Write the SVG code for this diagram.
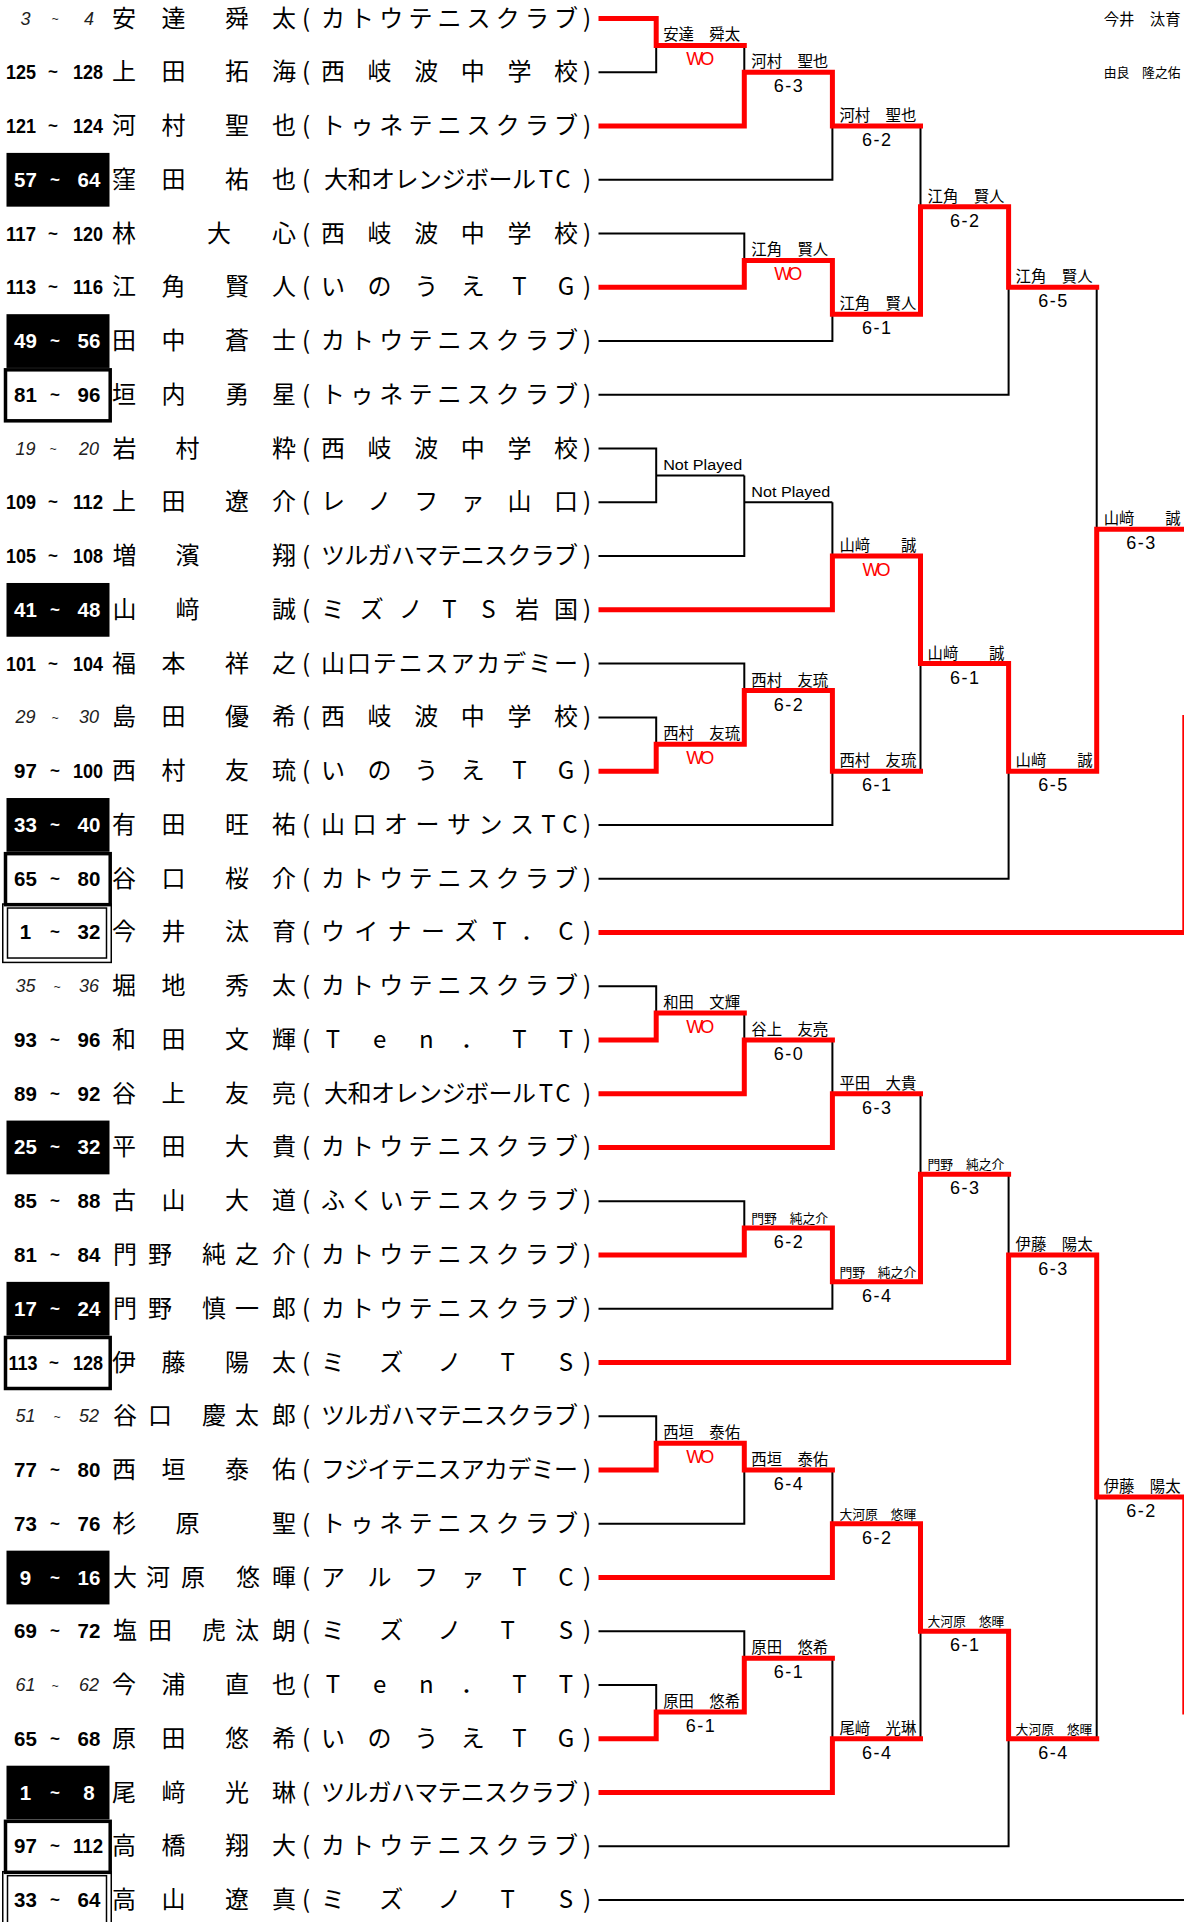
<svg xmlns="http://www.w3.org/2000/svg" width="1184" height="1922" viewBox="0 0 1184 1922">
<style>
.nm{font-family:'Noto Sans CJK JP',sans-serif;font-size:24px;fill:#000;text-anchor:middle}
.nb{font-family:'Liberation Sans',Arial,sans-serif;font-weight:700;font-size:20.5px;text-anchor:middle;fill:#000}
.nw{fill:#fff}
.ni{font-family:'Liberation Sans',Arial,sans-serif;font-style:italic;font-size:18px;text-anchor:middle;fill:#222}
.tl{font-size:17px}
.ti{font-size:12px}
.bk{fill:#000}
.tb{fill:none;stroke:#000;stroke-width:3.5}
.db{fill:none;stroke:#000;stroke-width:1.5}
.lb{font-family:'Noto Sans CJK JP',sans-serif;font-size:15.4px;fill:#000}
.ls{font-size:12.8px}
.np{font-family:'Liberation Sans',Arial,sans-serif;font-size:15.5px;fill:#000}
.sc{font-family:'Liberation Sans',Arial,sans-serif;font-size:18px;text-anchor:middle;fill:#000}
.wo{fill:#f00}
.blk{fill:none;stroke:#000;stroke-width:2;stroke-linejoin:miter}
.red{fill:none;stroke:#f00;stroke-width:5;stroke-linejoin:miter;stroke-linecap:square}
</style>
<rect width="1184" height="1922" fill="#fff"/>
<g id="players">
<g id="p01" transform="translate(0,18.5)"><text class="ni" x="25.5" y="6">3</text><text class="ni ti" x="55" y="4.5">~</text><text class="ni" x="89" y="6">4</text><text class="nm" x="124 173.5 237 284" y="8">安達舜太</text><text class="nm" x="306 333 362.1 391.3 420.4 449.5 478.6 507.8 536.9 566 587" y="8">(カトウテニスクラブ)</text></g>
<g id="p02" transform="translate(0,72.26)"><text class="nb" x="21" y="7" textLength="30" lengthAdjust="spacingAndGlyphs">125</text><text class="nb tl" x="53" y="5">~</text><text class="nb" x="88" y="7" textLength="30" lengthAdjust="spacingAndGlyphs">128</text><text class="nm" x="124 173.5 237 284" y="8">上田拓海</text><text class="nm" x="306 333 379.6 426.2 472.8 519.4 566 587" y="8">(西岐波中学校)</text></g>
<g id="p03" transform="translate(0,126.02)"><text class="nb" x="21" y="7" textLength="30" lengthAdjust="spacingAndGlyphs">121</text><text class="nb tl" x="53" y="5">~</text><text class="nb" x="88" y="7" textLength="30" lengthAdjust="spacingAndGlyphs">124</text><text class="nm" x="124 173.5 237 284" y="8">河村聖也</text><text class="nm" x="306 333 362.1 391.3 420.4 449.5 478.6 507.8 536.9 566 587" y="8">(トゥネテニスクラブ)</text></g>
<g id="p04" transform="translate(0,179.78)"><rect class="bk" x="6.5" y="-26.88" width="103" height="53.76"/><text class="nb nw" x="25.5" y="7">57</text><text class="nb nw tl" x="55" y="5">~</text><text class="nb nw" x="89" y="7">64</text><text class="nm" x="124 173.5 237 284" y="8">窪田祐也</text><text class="nm" x="306 336 359.5 383 406.5 430 453.5 477 500.5 524 546 563 587" y="8">(大和オレンジボールTC)</text></g>
<g id="p05" transform="translate(0,233.54)"><text class="nb" x="21" y="7" textLength="30" lengthAdjust="spacingAndGlyphs">117</text><text class="nb tl" x="53" y="5">~</text><text class="nb" x="88" y="7" textLength="30" lengthAdjust="spacingAndGlyphs">120</text><text class="nm" x="124 219 284" y="8">林大心</text><text class="nm" x="306 333 379.6 426.2 472.8 519.4 566 587" y="8">(西岐波中学校)</text></g>
<g id="p06" transform="translate(0,287.3)"><text class="nb" x="21" y="7" textLength="30" lengthAdjust="spacingAndGlyphs">113</text><text class="nb tl" x="53" y="5">~</text><text class="nb" x="88" y="7" textLength="30" lengthAdjust="spacingAndGlyphs">116</text><text class="nm" x="124 173.5 237 284" y="8">江角賢人</text><text class="nm" x="306 333 379.6 426.2 472.8 519.4 566 587" y="8">(いのうえTG)</text></g>
<g id="p07" transform="translate(0,341.06)"><rect class="bk" x="6.5" y="-26.88" width="103" height="53.76"/><text class="nb nw" x="25.5" y="7">49</text><text class="nb nw tl" x="55" y="5">~</text><text class="nb nw" x="89" y="7">56</text><text class="nm" x="124 173.5 237 284" y="8">田中蒼士</text><text class="nm" x="306 333 362.1 391.3 420.4 449.5 478.6 507.8 536.9 566 587" y="8">(カトウテニスクラブ)</text></g>
<g id="p08" transform="translate(0,394.82)"><rect class="tb" x="5.5" y="-25" width="104.7" height="51"/><text class="nb" x="25.5" y="7">81</text><text class="nb tl" x="55" y="5">~</text><text class="nb" x="89" y="7">96</text><text class="nm" x="124 173.5 237 284" y="8">垣内勇星</text><text class="nm" x="306 333 362.1 391.3 420.4 449.5 478.6 507.8 536.9 566 587" y="8">(トゥネテニスクラブ)</text></g>
<g id="p09" transform="translate(0,448.58)"><text class="ni" x="25.5" y="6">19</text><text class="ni ti" x="53" y="4.5">~</text><text class="ni" x="89" y="6">20</text><text class="nm" x="124.5 187.5 284" y="8">岩村粋</text><text class="nm" x="306 333 379.6 426.2 472.8 519.4 566 587" y="8">(西岐波中学校)</text></g>
<g id="p10" transform="translate(0,502.34)"><text class="nb" x="21" y="7" textLength="30" lengthAdjust="spacingAndGlyphs">109</text><text class="nb tl" x="53" y="5">~</text><text class="nb" x="88" y="7" textLength="30" lengthAdjust="spacingAndGlyphs">112</text><text class="nm" x="124 173.5 237 284" y="8">上田遼介</text><text class="nm" x="306 333 379.6 426.2 472.8 519.4 566 587" y="8">(レノファ山口)</text></g>
<g id="p11" transform="translate(0,556.1)"><text class="nb" x="21" y="7" textLength="30" lengthAdjust="spacingAndGlyphs">105</text><text class="nb tl" x="53" y="5">~</text><text class="nb" x="88" y="7" textLength="30" lengthAdjust="spacingAndGlyphs">108</text><text class="nm" x="124.5 187.5 284" y="8">増濱翔</text><text class="nm" x="306 333 356.3 379.6 402.9 426.2 449.5 472.8 496.1 519.4 542.7 566 587" y="8">(ツルガハマテニスクラブ)</text></g>
<g id="p12" transform="translate(0,609.86)"><rect class="bk" x="6.5" y="-26.88" width="103" height="53.76"/><text class="nb nw" x="25.5" y="7">41</text><text class="nb nw tl" x="55" y="5">~</text><text class="nb nw" x="89" y="7">48</text><text class="nm" x="124.5 187.5 284" y="8">山﨑誠</text><text class="nm" x="306 333 371.8 410.7 449.5 488.3 527.2 566 587" y="8">(ミズノTS岩国)</text></g>
<g id="p13" transform="translate(0,663.62)"><text class="nb" x="21" y="7" textLength="30" lengthAdjust="spacingAndGlyphs">101</text><text class="nb tl" x="53" y="5">~</text><text class="nb" x="88" y="7" textLength="30" lengthAdjust="spacingAndGlyphs">104</text><text class="nm" x="124 173.5 237 284" y="8">福本祥之</text><text class="nm" x="306 333 358.9 384.8 410.7 436.6 462.4 488.3 514.2 540.1 566 587" y="8">(山口テニスアカデミー)</text></g>
<g id="p14" transform="translate(0,717.38)"><text class="ni" x="25.5" y="6">29</text><text class="ni ti" x="55" y="4.5">~</text><text class="ni" x="89" y="6">30</text><text class="nm" x="124 173.5 237 284" y="8">島田優希</text><text class="nm" x="306 333 379.6 426.2 472.8 519.4 566 587" y="8">(西岐波中学校)</text></g>
<g id="p15" transform="translate(0,771.14)"><text class="nb" x="25.5" y="7">97</text><text class="nb tl" x="55" y="5">~</text><text class="nb" x="88" y="7" textLength="30" lengthAdjust="spacingAndGlyphs">100</text><text class="nm" x="124 173.5 237 284" y="8">西村友琉</text><text class="nm" x="306 333 379.6 426.2 472.8 519.4 566 587" y="8">(いのうえTG)</text></g>
<g id="p16" transform="translate(0,824.9)"><rect class="bk" x="6.5" y="-26.88" width="103" height="53.76"/><text class="nb nw" x="25.5" y="7">33</text><text class="nb nw tl" x="55" y="5">~</text><text class="nb nw" x="89" y="7">40</text><text class="nm" x="124 173.5 237 284" y="8">有田旺祐</text><text class="nm" x="306 333 364.5 396 427.5 459 490.5 522 548.5 570 587" y="8">(山口オーサンスTC)</text></g>
<g id="p17" transform="translate(0,878.66)"><rect class="tb" x="5.5" y="-25" width="104.7" height="51"/><text class="nb" x="25.5" y="7">65</text><text class="nb tl" x="55" y="5">~</text><text class="nb" x="89" y="7">80</text><text class="nm" x="124 173.5 237 284" y="8">谷口桜介</text><text class="nm" x="306 333 362.1 391.3 420.4 449.5 478.6 507.8 536.9 566 587" y="8">(カトウテニスクラブ)</text></g>
<g id="p18" transform="translate(0,932.42)"><rect class="db" x="2.75" y="-28.4" width="108.5" height="58.4"/><rect class="db" x="7.5" y="-24.4" width="99" height="50"/><text class="nb" x="25.5" y="7">1</text><text class="nb tl" x="55" y="5">~</text><text class="nb" x="89" y="7">32</text><text class="nm" x="124 173.5 237 284" y="8">今井汰育</text><text class="nm" x="306 333 366.3 399.6 432.9 466.1 499.4 532.7 566 587" y="8">(ウイナーズT．C)</text></g>
<g id="p19" transform="translate(0,986.18)"><text class="ni" x="25.5" y="6">35</text><text class="ni ti" x="57" y="4.5">~</text><text class="ni" x="89" y="6">36</text><text class="nm" x="124 173.5 237 284" y="8">堀地秀太</text><text class="nm" x="306 333 362.1 391.3 420.4 449.5 478.6 507.8 536.9 566 587" y="8">(カトウテニスクラブ)</text></g>
<g id="p20" transform="translate(0,1039.94)"><text class="nb" x="25.5" y="7">93</text><text class="nb tl" x="55" y="5">~</text><text class="nb" x="89" y="7">96</text><text class="nm" x="124 173.5 237 284" y="8">和田文輝</text><text class="nm" x="306 333 379.6 426.2 472.8 519.4 566 587" y="8">(Ten．TT)</text></g>
<g id="p21" transform="translate(0,1093.7)"><text class="nb" x="25.5" y="7">89</text><text class="nb tl" x="55" y="5">~</text><text class="nb" x="89" y="7">92</text><text class="nm" x="124 173.5 237 284" y="8">谷上友亮</text><text class="nm" x="306 336 359.5 383 406.5 430 453.5 477 500.5 524 546 563 587" y="8">(大和オレンジボールTC)</text></g>
<g id="p22" transform="translate(0,1147.46)"><rect class="bk" x="6.5" y="-26.88" width="103" height="53.76"/><text class="nb nw" x="25.5" y="7">25</text><text class="nb nw tl" x="55" y="5">~</text><text class="nb nw" x="89" y="7">32</text><text class="nm" x="124 173.5 237 284" y="8">平田大貴</text><text class="nm" x="306 333 362.1 391.3 420.4 449.5 478.6 507.8 536.9 566 587" y="8">(カトウテニスクラブ)</text></g>
<g id="p23" transform="translate(0,1201.22)"><text class="nb" x="25.5" y="7">85</text><text class="nb tl" x="55" y="5">~</text><text class="nb" x="89" y="7">88</text><text class="nm" x="124 173.5 237 284" y="8">古山大道</text><text class="nm" x="306 333 362.1 391.3 420.4 449.5 478.6 507.8 536.9 566 587" y="8">(ふくいテニスクラブ)</text></g>
<g id="p24" transform="translate(0,1254.98)"><text class="nb" x="25.5" y="7">81</text><text class="nb tl" x="55" y="5">~</text><text class="nb" x="89" y="7">84</text><text class="nm" x="125 160 214 247 284" y="8">門野純之介</text><text class="nm" x="306 333 362.1 391.3 420.4 449.5 478.6 507.8 536.9 566 587" y="8">(カトウテニスクラブ)</text></g>
<g id="p25" transform="translate(0,1308.74)"><rect class="bk" x="6.5" y="-26.88" width="103" height="53.76"/><text class="nb nw" x="25.5" y="7">17</text><text class="nb nw tl" x="55" y="5">~</text><text class="nb nw" x="89" y="7">24</text><text class="nm" x="125 160 214 247 284" y="8">門野慎一郎</text><text class="nm" x="306 333 362.1 391.3 420.4 449.5 478.6 507.8 536.9 566 587" y="8">(カトウテニスクラブ)</text></g>
<g id="p26" transform="translate(0,1362.5)"><rect class="tb" x="5.5" y="-25" width="104.7" height="51"/><text class="nb" x="23" y="7" textLength="29" lengthAdjust="spacingAndGlyphs">113</text><text class="nb tl" x="54" y="5">~</text><text class="nb" x="88" y="7" textLength="30" lengthAdjust="spacingAndGlyphs">128</text><text class="nm" x="124 173.5 237 284" y="8">伊藤陽太</text><text class="nm" x="306 333 391.3 449.5 507.8 566 587" y="8">(ミズノTS)</text></g>
<g id="p27" transform="translate(0,1416.26)"><text class="ni" x="25.5" y="6">51</text><text class="ni ti" x="57" y="4.5">~</text><text class="ni" x="89" y="6">52</text><text class="nm" x="125 160 214 247 284" y="8">谷口慶太郎</text><text class="nm" x="306 333 356.3 379.6 402.9 426.2 449.5 472.8 496.1 519.4 542.7 566 587" y="8">(ツルガハマテニスクラブ)</text></g>
<g id="p28" transform="translate(0,1470.02)"><text class="nb" x="25.5" y="7">77</text><text class="nb tl" x="55" y="5">~</text><text class="nb" x="89" y="7">80</text><text class="nm" x="124 173.5 237 284" y="8">西垣泰佑</text><text class="nm" x="306 333 356.3 379.6 402.9 426.2 449.5 472.8 496.1 519.4 542.7 566 587" y="8">(フジイテニスアカデミー)</text></g>
<g id="p29" transform="translate(0,1523.78)"><text class="nb" x="25.5" y="7">73</text><text class="nb tl" x="55" y="5">~</text><text class="nb" x="89" y="7">76</text><text class="nm" x="124.5 187.5 284" y="8">杉原聖</text><text class="nm" x="306 333 362.1 391.3 420.4 449.5 478.6 507.8 536.9 566 587" y="8">(トゥネテニスクラブ)</text></g>
<g id="p30" transform="translate(0,1577.54)"><rect class="bk" x="6.5" y="-26.88" width="103" height="53.76"/><text class="nb nw" x="25.5" y="7">9</text><text class="nb nw tl" x="55" y="5">~</text><text class="nb nw" x="89" y="7">16</text><text class="nm" x="125 158 193 248 284" y="8">大河原悠暉</text><text class="nm" x="306 333 379.6 426.2 472.8 519.4 566 587" y="8">(アルファTC)</text></g>
<g id="p31" transform="translate(0,1631.3)"><text class="nb" x="25.5" y="7">69</text><text class="nb tl" x="55" y="5">~</text><text class="nb" x="89" y="7">72</text><text class="nm" x="125 160 214 247 284" y="8">塩田虎汰朗</text><text class="nm" x="306 333 391.3 449.5 507.8 566 587" y="8">(ミズノTS)</text></g>
<g id="p32" transform="translate(0,1685.06)"><text class="ni" x="25.5" y="6">61</text><text class="ni ti" x="55" y="4.5">~</text><text class="ni" x="89" y="6">62</text><text class="nm" x="124 173.5 237 284" y="8">今浦直也</text><text class="nm" x="306 333 379.6 426.2 472.8 519.4 566 587" y="8">(Ten．TT)</text></g>
<g id="p33" transform="translate(0,1738.82)"><text class="nb" x="25.5" y="7">65</text><text class="nb tl" x="55" y="5">~</text><text class="nb" x="89" y="7">68</text><text class="nm" x="124 173.5 237 284" y="8">原田悠希</text><text class="nm" x="306 333 379.6 426.2 472.8 519.4 566 587" y="8">(いのうえTG)</text></g>
<g id="p34" transform="translate(0,1792.58)"><rect class="bk" x="6.5" y="-26.88" width="103" height="53.76"/><text class="nb nw" x="25.5" y="7">1</text><text class="nb nw tl" x="55" y="5">~</text><text class="nb nw" x="89" y="7">8</text><text class="nm" x="124 173.5 237 284" y="8">尾﨑光琳</text><text class="nm" x="306 333 356.3 379.6 402.9 426.2 449.5 472.8 496.1 519.4 542.7 566 587" y="8">(ツルガハマテニスクラブ)</text></g>
<g id="p35" transform="translate(0,1846.34)"><rect class="tb" x="5.5" y="-25" width="104.7" height="51"/><text class="nb" x="25.5" y="7">97</text><text class="nb tl" x="55" y="5">~</text><text class="nb" x="88" y="7" textLength="30" lengthAdjust="spacingAndGlyphs">112</text><text class="nm" x="124 173.5 237 284" y="8">高橋翔大</text><text class="nm" x="306 333 362.1 391.3 420.4 449.5 478.6 507.8 536.9 566 587" y="8">(カトウテニスクラブ)</text></g>
<g id="p36" transform="translate(0,1900.1)"><rect class="db" x="2.75" y="-28.4" width="108.5" height="58.4"/><rect class="db" x="7.5" y="-24.4" width="99" height="50"/><text class="nb" x="25.5" y="7">33</text><text class="nb tl" x="55" y="5">~</text><text class="nb" x="89" y="7">64</text><text class="nm" x="124 173.5 237 284" y="8">高山遼真</text><text class="nm" x="306 333 391.3 449.5 507.8 566 587" y="8">(ミズノTS)</text></g>
</g>
<g id="connectors">
<path class="blk" d="M598.5,72.26H656.2V45.38 M744.3,45.38V72.26 M598.5,179.78H832.4V126.02 M598.5,233.54H744.3V260.42 M598.5,341.06H832.4V314.18 M920.5,126.02V206.66 M598.5,394.82H1008.6V287.3 M598.5,448.58H656.2V502.34H598.5 M656.2,475.46H744.3 M744.3,475.46V556.1H598.5 M744.3,502.34H832.4 M832.4,502.34V556.1 M598.5,717.38H656.2V744.26 M598.5,663.62H744.3V690.5 M598.5,824.9H832.4V771.14 M920.5,663.62V771.14 M598.5,878.66H1008.6V771.14 M1096.7,287.3V529.22 M598.5,986.18H656.2V1013.06 M744.3,1013.06V1039.94 M832.4,1039.94V1093.7 M598.5,1201.22H744.3V1228.1 M598.5,1308.74H832.4V1281.86 M920.5,1093.7V1174.34 M1008.6,1174.34V1254.98 M598.5,1416.26H656.2V1443.14 M598.5,1523.78H744.3V1470.02 M832.4,1470.02V1523.78 M598.5,1685.06H656.2V1711.94 M598.5,1631.3H744.3V1658.18 M832.4,1658.18V1738.82 M920.5,1631.3V1738.82 M598.5,1846.34H1008.6V1738.82 M1096.7,1496.9V1738.82 M598.5,1900.1H1184"/>
<path class="red" d="M601,18.5H656.2V45.38H744.3 M601,126.02H744.3V72.26H832.4V126.02H920.5 M601,287.3H744.3V260.42H832.4V314.18H920.5V206.66H1008.6V287.3H1096.7 M601,609.86H832.4V556.1H920.5V663.62H1008.6V771.14H1096.7V529.22H1187 M601,771.14H656.2V744.26H744.3V690.5H832.4V771.14H920.5 M601,932.42H1184.8V717.38 M601,1039.94H656.2V1013.06H744.3 M601,1093.7H744.3V1039.94H832.4 M601,1147.46H832.4V1093.7H920.5 M601,1254.98H744.3V1228.1H832.4V1281.86H920.5V1174.34H1008.6 M601,1362.5H1008.6V1254.98H1096.7V1496.9H1184.8V1711.94 M601,1470.02H656.2V1443.14H744.3V1470.02H832.4 M601,1577.54H832.4V1523.78H920.5V1631.3H1008.6V1738.82H1096.7 M601,1738.82H656.2V1711.94H744.3V1658.18H832.4 M601,1792.58H832.4V1738.82H920.5"/>
</g>
<g id="results">
<g id="top-labels"><text class="lb" x="1103.7" y="25">今井　汰育</text><text class="lb ls" x="1103.7" y="77">由良　隆之佑</text></g>
<g id="m01"><text class="lb" x="663.2" y="40.38">安達　舜太</text><text class="sc wo" x="700.25" y="65.38" textLength="28">WO</text></g>
<g id="m02"><text class="lb" x="751.3" y="67.26">河村　聖也</text><text class="sc" x="788.35" y="92.26" textLength="29">6-3</text></g>
<g id="m03"><text class="lb" x="839.4" y="121.02">河村　聖也</text><text class="sc" x="876.45" y="146.02" textLength="29">6-2</text></g>
<g id="m04"><text class="lb" x="751.3" y="255.42">江角　賢人</text><text class="sc wo" x="788.35" y="280.42" textLength="28">WO</text></g>
<g id="m05"><text class="lb" x="839.4" y="309.18">江角　賢人</text><text class="sc" x="876.45" y="334.18" textLength="29">6-1</text></g>
<g id="m06"><text class="lb" x="927.5" y="201.66">江角　賢人</text><text class="sc" x="964.55" y="226.66" textLength="29">6-2</text></g>
<g id="m07"><text class="lb" x="1015.6" y="282.3">江角　賢人</text><text class="sc" x="1052.65" y="307.3" textLength="29">6-5</text></g>
<g id="m08"><text class="np" x="663.2" y="470.46" textLength="79" lengthAdjust="spacingAndGlyphs">Not Played</text></g>
<g id="m09"><text class="np" x="751.3" y="497.34" textLength="79" lengthAdjust="spacingAndGlyphs">Not Played</text></g>
<g id="m10"><text class="lb" x="839.4" y="551.1">山﨑　　誠</text><text class="sc wo" x="876.45" y="576.1" textLength="28">WO</text></g>
<g id="m11"><text class="lb" x="663.2" y="739.26">西村　友琉</text><text class="sc wo" x="700.25" y="764.26" textLength="28">WO</text></g>
<g id="m12"><text class="lb" x="751.3" y="685.5">西村　友琉</text><text class="sc" x="788.35" y="710.5" textLength="29">6-2</text></g>
<g id="m13"><text class="lb" x="839.4" y="766.14">西村　友琉</text><text class="sc" x="876.45" y="791.14" textLength="29">6-1</text></g>
<g id="m14"><text class="lb" x="927.5" y="658.62">山﨑　　誠</text><text class="sc" x="964.55" y="683.62" textLength="29">6-1</text></g>
<g id="m15"><text class="lb" x="1015.6" y="766.14">山﨑　　誠</text><text class="sc" x="1052.65" y="791.14" textLength="29">6-5</text></g>
<g id="m16"><text class="lb" x="1103.7" y="524.22">山﨑　　誠</text><text class="sc" x="1140.75" y="549.22" textLength="29">6-3</text></g>
<g id="m17"><text class="lb" x="663.2" y="1008.06">和田　文輝</text><text class="sc wo" x="700.25" y="1033.06" textLength="28">WO</text></g>
<g id="m18"><text class="lb" x="751.3" y="1034.94">谷上　友亮</text><text class="sc" x="788.35" y="1059.94" textLength="29">6-0</text></g>
<g id="m19"><text class="lb" x="839.4" y="1088.7">平田　大貴</text><text class="sc" x="876.45" y="1113.7" textLength="29">6-3</text></g>
<g id="m20"><text class="lb ls" x="751.3" y="1223.1">門野　純之介</text><text class="sc" x="788.35" y="1248.1" textLength="29">6-2</text></g>
<g id="m21"><text class="lb ls" x="839.4" y="1276.86">門野　純之介</text><text class="sc" x="876.45" y="1301.86" textLength="29">6-4</text></g>
<g id="m22"><text class="lb ls" x="927.5" y="1169.34">門野　純之介</text><text class="sc" x="964.55" y="1194.34" textLength="29">6-3</text></g>
<g id="m23"><text class="lb" x="1015.6" y="1249.98">伊藤　陽太</text><text class="sc" x="1052.65" y="1274.98" textLength="29">6-3</text></g>
<g id="m24"><text class="lb" x="663.2" y="1438.14">西垣　泰佑</text><text class="sc wo" x="700.25" y="1463.14" textLength="28">WO</text></g>
<g id="m25"><text class="lb" x="751.3" y="1465.02">西垣　泰佑</text><text class="sc" x="788.35" y="1490.02" textLength="29">6-4</text></g>
<g id="m26"><text class="lb ls" x="839.4" y="1518.78">大河原　悠暉</text><text class="sc" x="876.45" y="1543.78" textLength="29">6-2</text></g>
<g id="m27"><text class="lb" x="663.2" y="1706.94">原田　悠希</text><text class="sc" x="700.25" y="1731.94" textLength="29">6-1</text></g>
<g id="m28"><text class="lb" x="751.3" y="1653.18">原田　悠希</text><text class="sc" x="788.35" y="1678.18" textLength="29">6-1</text></g>
<g id="m29"><text class="lb" x="839.4" y="1733.82">尾﨑　光琳</text><text class="sc" x="876.45" y="1758.82" textLength="29">6-4</text></g>
<g id="m30"><text class="lb ls" x="927.5" y="1626.3">大河原　悠暉</text><text class="sc" x="964.55" y="1651.3" textLength="29">6-1</text></g>
<g id="m31"><text class="lb ls" x="1015.6" y="1733.82">大河原　悠暉</text><text class="sc" x="1052.65" y="1758.82" textLength="29">6-4</text></g>
<g id="m32"><text class="lb" x="1103.7" y="1491.9">伊藤　陽太</text><text class="sc" x="1140.75" y="1516.9" textLength="29">6-2</text></g>
</g>
</svg>
